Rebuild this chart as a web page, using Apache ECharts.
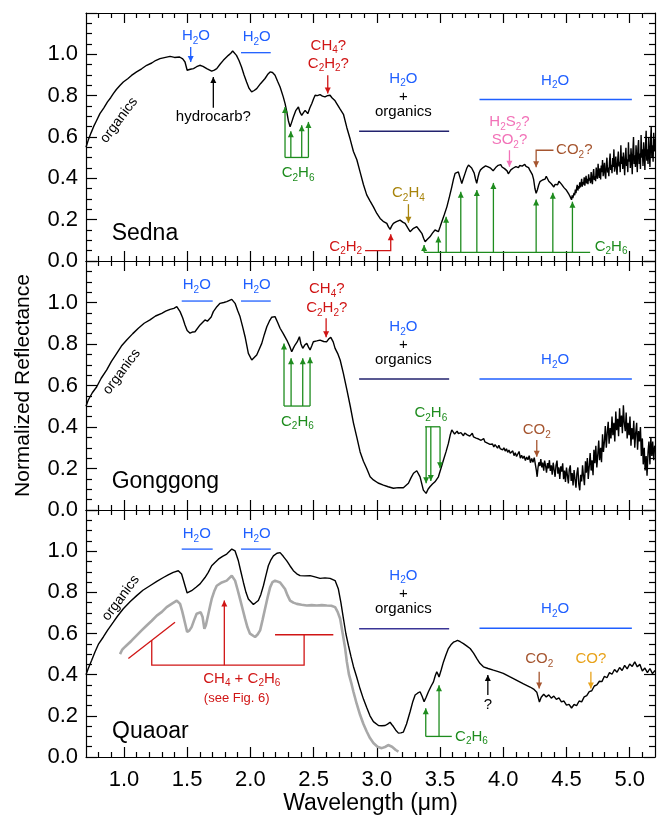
<!DOCTYPE html>
<html>
<head>
<meta charset="utf-8">
<script src="https://cdn.jsdelivr.net/npm/echarts@6/dist/echarts.min.js"></script>
<style>
  html, body { margin: 0; padding: 0; background: #fff; }
  #chart { width: 657px; height: 817px; }
</style>
</head>
<body>
<div id="chart"></div>
<script>
// ---- data: [wavelength (um), normalized reflectance] ----
var sedna = [
  [0.70,0.55],[0.718,0.585],[0.74,0.62],[0.76,0.65],[0.78,0.675],[0.81,0.713],[0.84,0.74],[0.87,0.77],[0.895,0.79],[0.916,0.81],
  [0.94,0.83],[0.97,0.85],[0.995,0.866],[1.03,0.882],[1.06,0.898],[1.10,0.915],[1.14,0.93],[1.18,0.947],[1.22,0.958],[1.25,0.97],
  [1.285,0.979],[1.32,0.984],[1.365,0.99],[1.40,0.985],[1.44,0.987],[1.465,0.978],[1.483,0.963],[1.50,0.923],[1.525,0.928],[1.55,0.931],
  [1.575,0.94],[1.60,0.947],[1.625,0.942],[1.655,0.931],[1.694,0.919],[1.715,0.924],[1.734,0.931],[1.76,0.952],[1.786,0.971],[1.826,0.995],
  [1.845,1.005],[1.86,1.016],[1.875,1.008],[1.89,0.995],[1.91,0.97],[1.93,0.939],[1.95,0.9],[1.97,0.866],[1.99,0.835],[2.01,0.818],
  [2.03,0.825],[2.05,0.834],[2.08,0.858],[2.116,0.883],[2.14,0.905],[2.156,0.915],[2.175,0.912],[2.195,0.899],[2.215,0.87],[2.235,0.842],
  [2.26,0.794],[2.275,0.76],[2.288,0.721],[2.30,0.68],[2.314,0.649],[2.327,0.672],[2.34,0.697],[2.36,0.729],[2.38,0.745],[2.392,0.72],
  [2.406,0.705],[2.42,0.718],[2.433,0.729],[2.454,0.713],[2.47,0.74],[2.486,0.762],[2.50,0.785],[2.512,0.802],[2.53,0.8],[2.551,0.805],
  [2.57,0.798],[2.59,0.794],[2.61,0.8],[2.63,0.802],[2.645,0.79],[2.657,0.794],[2.67,0.775],[2.683,0.762],[2.71,0.735],[2.736,0.71],
  [2.763,0.645],[2.789,0.59],[2.815,0.53],[2.842,0.49],[2.868,0.43],[2.894,0.37],[2.92,0.32],[2.947,0.29],[2.973,0.262],[3.00,0.23],
  [3.026,0.206],[3.05,0.192],[3.079,0.182],[3.092,0.165],[3.105,0.153],[3.118,0.17],[3.131,0.182],[3.155,0.19],[3.184,0.198],[3.205,0.188],
  [3.224,0.182],[3.245,0.16],[3.263,0.142],[3.29,0.158],[3.316,0.166],[3.336,0.15],[3.356,0.134],[3.37,0.11],[3.382,0.093],[3.40,0.105],
  [3.42,0.117],[3.44,0.135],[3.46,0.15],[3.475,0.146],[3.487,0.142],[3.50,0.165],[3.514,0.19],[3.534,0.225],[3.554,0.262],[3.574,0.31],
  [3.593,0.359],[3.606,0.395],[3.619,0.424],[3.632,0.428],[3.645,0.431],[3.66,0.4],[3.672,0.375],[3.685,0.4],[3.698,0.424],[3.712,0.45],
  [3.725,0.464],[3.74,0.458],[3.75,0.450],[3.76,0.445],[3.77,0.425],[3.78,0.398],[3.79,0.376],[3.80,0.405],[3.81,0.428],[3.82,0.441],
  [3.83,0.436],[3.84,0.452],[3.85,0.447],[3.86,0.460],[3.87,0.451],[3.88,0.455],[3.89,0.446],[3.90,0.449],[3.91,0.441],[3.92,0.437],
  [3.93,0.446],[3.94,0.452],[3.95,0.449],[3.96,0.463],[3.97,0.458],[3.98,0.466],[3.99,0.455],[4.00,0.459],[4.01,0.447],[4.02,0.440],
  [4.03,0.436],[4.04,0.422],[4.05,0.431],[4.06,0.441],[4.07,0.437],[4.08,0.450],[4.09,0.446],[4.10,0.457],[4.11,0.449],[4.12,0.452],
  [4.13,0.462],[4.14,0.455],[4.15,0.459],[4.16,0.451],[4.17,0.468],[4.18,0.458],[4.19,0.463],[4.20,0.452],[4.21,0.440],[4.22,0.431],
  [4.23,0.418],[4.24,0.395],[4.25,0.352],[4.26,0.328],[4.27,0.345],[4.28,0.368],[4.29,0.384],[4.30,0.376],[4.31,0.392],[4.32,0.401],
  [4.33,0.396],[4.34,0.410],[4.35,0.398],[4.36,0.386],[4.37,0.392],[4.38,0.374],[4.39,0.366],[4.40,0.358],[4.41,0.371],[4.42,0.380],
  [4.43,0.369],[4.44,0.386],[4.45,0.380],[4.46,0.372],[4.47,0.366],[4.48,0.355],[4.49,0.349],[4.50,0.342],[4.51,0.336],[4.52,0.322],
  [4.53,0.310],[4.54,0.296],[4.545,0.318],[4.55,0.305],[4.56,0.330],[4.565,0.318],[4.57,0.345],[4.575,0.328],[4.58,0.352],[4.585,0.368],
  [4.59,0.341],[4.595,0.362],[4.60,0.350],[4.605,0.381],[4.61,0.356],[4.615,0.372],[4.62,0.398],[4.625,0.360],[4.63,0.382],[4.635,0.370],
  [4.64,0.405],[4.645,0.364],[4.65,0.390],[4.655,0.412],[4.66,0.375],[4.665,0.398],[4.67,0.372],[4.675,0.420],[4.68,0.389],[4.685,0.402],
  [4.69,0.377],[4.695,0.430],[4.70,0.395],[4.705,0.372],[4.71,0.418],[4.715,0.445],[4.72,0.392],[4.725,0.410],[4.73,0.386],[4.735,0.452],
  [4.74,0.414],[4.745,0.398],[4.75,0.470],[4.755,0.425],[4.76,0.402],[4.765,0.448],[4.77,0.395],[4.775,0.462],[4.78,0.430],[4.785,0.488],
  [4.79,0.410],[4.795,0.442],[4.80,0.475],[4.805,0.418],[4.81,0.398],[4.815,0.465],[4.82,0.500],[4.825,0.428],[4.83,0.452],[4.835,0.410],
  [4.84,0.478],[4.845,0.520],[4.85,0.440],[4.855,0.465],[4.86,0.425],[4.865,0.498],[4.87,0.455],[4.875,0.540],[4.88,0.432],[4.885,0.470],
  [4.89,0.505],[4.895,0.445],[4.90,0.418],[4.905,0.490],[4.91,0.530],[4.915,0.458],[4.92,0.480],[4.925,0.430],[4.93,0.560],[4.935,0.470],
  [4.94,0.505],[4.945,0.445],[4.95,0.525],[4.955,0.478],[4.96,0.415],[4.965,0.500],[4.97,0.548],[4.975,0.460],[4.98,0.492],[4.985,0.430],
  [4.99,0.575],[4.995,0.480],[5.00,0.515],[5.005,0.450],[5.01,0.545],[5.015,0.498],[5.02,0.420],[5.025,0.530],[5.03,0.600],[5.035,0.470],
  [5.04,0.512],[5.045,0.455],[5.05,0.560],[5.055,0.495],[5.06,0.430],[5.065,0.545],[5.07,0.585],[5.075,0.470],[5.08,0.520],[5.085,0.445],
  [5.09,0.610],[5.095,0.500],[5.10,0.540],[5.105,0.460],[5.11,0.575],[5.115,0.515],[5.12,0.440],[5.125,0.560],[5.13,0.630],[5.135,0.485],
  [5.14,0.540],[5.145,0.470],[5.15,0.600],[5.155,0.520],[5.16,0.455],[5.165,0.580],[5.17,0.650],[5.175,0.500],[5.18,0.560],[5.185,0.480],
  [5.19,0.620],[5.195,0.530],[5.20,0.590]
];

var gonggong = [
  [0.70,0.50],[0.718,0.53],[0.75,0.565],[0.785,0.594],[0.82,0.635],[0.864,0.675],[0.90,0.715],[0.943,0.755],[0.98,0.79],[1.022,0.819],
  [1.07,0.85],[1.114,0.876],[1.16,0.90],[1.206,0.916],[1.25,0.935],[1.299,0.948],[1.33,0.958],[1.365,0.967],[1.395,0.972],[1.418,0.98],
  [1.444,0.956],[1.465,0.925],[1.483,0.892],[1.50,0.865],[1.523,0.852],[1.545,0.858],[1.562,0.859],[1.602,0.892],[1.641,0.916],[1.66,0.91],
  [1.675,0.907],[1.69,0.93],[1.707,0.956],[1.735,0.98],[1.76,0.996],[1.79,1.0],[1.813,1.004],[1.853,1.015],[1.879,0.996],[1.90,0.96],
  [1.918,0.932],[1.94,0.88],[1.958,0.835],[1.984,0.755],[2.011,0.723],[2.05,0.747],[2.07,0.775],[2.09,0.803],[2.11,0.845],[2.13,0.883],
  [2.15,0.91],[2.169,0.929],[2.195,0.932],[2.215,0.905],[2.235,0.876],[2.26,0.85],[2.288,0.819],[2.31,0.79],[2.327,0.763],[2.34,0.78],
  [2.353,0.795],[2.37,0.81],[2.388,0.835],[2.40,0.80],[2.414,0.779],[2.43,0.795],[2.446,0.803],[2.46,0.785],[2.472,0.771],[2.485,0.79],
  [2.498,0.811],[2.525,0.815],[2.551,0.819],[2.58,0.812],[2.604,0.811],[2.62,0.825],[2.636,0.832],[2.655,0.81],[2.67,0.779],[2.69,0.755],
  [2.71,0.723],[2.735,0.66],[2.763,0.58],[2.79,0.50],[2.815,0.42],[2.842,0.35],[2.868,0.28],[2.894,0.235],[2.92,0.20],[2.947,0.16],
  [2.973,0.145],[3.01,0.13],[3.052,0.12],[3.09,0.112],[3.131,0.105],[3.17,0.108],[3.21,0.107],[3.25,0.129],[3.27,0.155],[3.29,0.177],
  [3.316,0.189],[3.342,0.16],[3.368,0.096],[3.39,0.08],[3.405,0.10],[3.42,0.112],[3.44,0.125],[3.46,0.136],[3.487,0.16],[3.507,0.20],
  [3.527,0.241],[3.547,0.28],[3.566,0.321],[3.58,0.36],[3.593,0.386],
  [3.605,0.378],[3.615,0.366],[3.625,0.372],[3.635,0.380],[3.645,0.368],[3.655,0.362],[3.665,0.373],[3.675,0.366],[3.685,0.358],[3.695,0.371],
  [3.705,0.375],[3.715,0.362],[3.725,0.368],[3.735,0.356],[3.745,0.364],[3.755,0.370],[3.765,0.352],[3.775,0.358],[3.785,0.346],[3.795,0.353],
  [3.805,0.342],[3.815,0.350],[3.825,0.336],[3.835,0.331],[3.845,0.344],[3.855,0.328],[3.865,0.334],[3.875,0.322],[3.885,0.330],[3.895,0.316],
  [3.905,0.325],[3.915,0.318],[3.925,0.304],[3.935,0.315],[3.945,0.309],[3.955,0.298],[3.965,0.312],[3.975,0.296],[3.985,0.302],[3.995,0.290],
  [4.005,0.300],[4.015,0.284],[4.025,0.295],[4.035,0.278],[4.045,0.289],[4.055,0.274],[4.065,0.268],[4.075,0.285],[4.085,0.262],[4.095,0.276],
  [4.105,0.258],[4.115,0.270],[4.125,0.282],[4.135,0.250],[4.145,0.264],[4.155,0.248],[4.165,0.260],[4.175,0.238],[4.185,0.255],[4.195,0.242],
  [4.205,0.262],[4.215,0.228],[4.225,0.248],[4.235,0.230],[4.245,0.252],[4.255,0.215],[4.262,0.190],[4.268,0.160],[4.275,0.205],[4.282,0.230],
  [4.290,0.212],[4.297,0.245],[4.305,0.205],[4.312,0.228],[4.320,0.190],[4.327,0.238],[4.335,0.212],[4.342,0.180],[4.350,0.226],[4.357,0.200],
  [4.365,0.240],[4.372,0.188],[4.380,0.215],[4.387,0.170],[4.395,0.228],[4.402,0.195],[4.410,0.160],[4.417,0.215],[4.425,0.238],[4.432,0.175],
  [4.440,0.205],[4.447,0.150],[4.455,0.210],[4.462,0.185],[4.470,0.225],[4.477,0.148],[4.485,0.190],[4.492,0.135],[4.500,0.205],[4.507,0.168],
  [4.515,0.128],[4.522,0.195],[4.530,0.215],[4.537,0.140],[4.545,0.178],[4.552,0.118],[4.560,0.192],[4.567,0.150],[4.575,0.108],[4.582,0.175],
  [4.590,0.205],[4.597,0.125],[4.605,0.095],[4.612,0.170],[4.620,0.138],[4.627,0.215],[4.635,0.160],[4.642,0.120],[4.650,0.235],[4.657,0.180],
  [4.665,0.250],[4.672,0.150],[4.680,0.210],[4.687,0.275],[4.695,0.190],[4.702,0.240],[4.710,0.168],[4.717,0.290],[4.725,0.225],[4.732,0.310],
  [4.740,0.205],[4.747,0.262],[4.755,0.335],[4.762,0.240],[4.770,0.300],[4.777,0.230],[4.785,0.365],[4.792,0.280],[4.800,0.330],[4.807,0.405],
  [4.815,0.300],[4.822,0.370],[4.830,0.425],[4.837,0.320],[4.845,0.395],[4.852,0.345],[4.860,0.450],[4.867,0.360],[4.875,0.420],[4.882,0.330],
  [4.890,0.475],[4.897,0.385],[4.905,0.440],[4.912,0.355],[4.920,0.490],[4.927,0.400],[4.935,0.455],[4.942,0.370],[4.950,0.505],[4.957,0.420],
  [4.965,0.380],[4.972,0.470],[4.980,0.345],[4.987,0.420],[4.995,0.360],[5.002,0.450],[5.010,0.310],[5.017,0.395],[5.025,0.340],[5.032,0.430],
  [5.040,0.300],[5.047,0.370],[5.055,0.420],[5.062,0.290],[5.070,0.380],[5.077,0.330],[5.085,0.400],[5.092,0.260],[5.100,0.345],[5.107,0.220],
  [5.115,0.300],[5.122,0.190],[5.130,0.260],[5.137,0.165],[5.145,0.280],[5.152,0.330],[5.160,0.220],[5.167,0.350],[5.175,0.260],[5.182,0.330],
  [5.190,0.240],[5.197,0.310],[5.200,0.290]
];

var quaoar = [
  [0.70,0.40],[0.718,0.43],[0.745,0.47],[0.771,0.51],[0.80,0.55],[0.837,0.583],[0.87,0.615],[0.916,0.655],[0.95,0.685],[0.995,0.72],
  [1.05,0.755],[1.101,0.784],[1.15,0.81],[1.206,0.832],[1.26,0.853],[1.312,0.872],[1.35,0.885],[1.39,0.897],[1.43,0.905],[1.456,0.889],
  [1.47,0.86],[1.483,0.832],[1.50,0.797],[1.535,0.808],[1.57,0.825],[1.602,0.841],[1.641,0.872],[1.667,0.897],[1.694,0.929],[1.72,0.945],
  [1.747,0.961],[1.78,0.975],[1.813,0.986],[1.853,1.01],[1.879,1.001],[1.905,0.953],[1.925,0.90],[1.945,0.848],[1.965,0.80],[1.984,0.768],
  [2.024,0.741],[2.063,0.76],[2.083,0.79],[2.103,0.832],[2.122,0.88],[2.142,0.929],[2.16,0.955],[2.182,0.977],[2.21,0.99],[2.235,0.993],
  [2.26,0.975],[2.288,0.953],[2.314,0.928],[2.34,0.905],[2.367,0.89],[2.393,0.881],[2.43,0.88],[2.472,0.881],[2.51,0.875],[2.551,0.868],
  [2.59,0.87],[2.63,0.868],[2.67,0.857],[2.696,0.816],[2.716,0.75],[2.736,0.672],[2.755,0.60],[2.775,0.543],[2.795,0.49],[2.815,0.44],
  [2.84,0.39],[2.868,0.33],[2.895,0.28],[2.92,0.24],[2.946,0.20],[2.973,0.172],[3.013,0.153],[3.04,0.152],[3.066,0.153],[3.085,0.16],
  [3.105,0.169],[3.118,0.158],[3.131,0.148],[3.15,0.13],[3.171,0.116],[3.19,0.117],[3.21,0.121],[3.235,0.16],[3.263,0.22],[3.285,0.27],
  [3.303,0.301],[3.322,0.31],[3.342,0.317],[3.358,0.295],[3.374,0.269],[3.39,0.29],[3.408,0.317],[3.43,0.345],[3.448,0.365],[3.462,0.395],
  [3.474,0.414],[3.485,0.40],[3.492,0.389],[3.51,0.425],[3.527,0.462],[3.547,0.497],[3.566,0.527],[3.586,0.545],[3.606,0.558],[3.622,0.562],
  [3.638,0.567],[3.66,0.56],[3.685,0.551],[3.71,0.54],[3.738,0.527],[3.765,0.505],[3.791,0.478],[3.815,0.455],[3.843,0.438],[3.88,0.43],
  [3.922,0.422],[3.96,0.415],[4.00,0.406],[4.05,0.39],[4.107,0.372],[4.16,0.355],[4.212,0.34],[4.24,0.33],[4.265,0.315],[4.286,0.267],
  [4.30,0.29],[4.32,0.305],[4.34,0.292],[4.36,0.302],[4.38,0.286],[4.40,0.296],[4.42,0.28],[4.44,0.287],[4.46,0.268],[4.48,0.272],
  [4.50,0.252],[4.52,0.256],[4.54,0.238],[4.56,0.255],[4.58,0.25],[4.60,0.272],[4.62,0.268],[4.64,0.292],[4.66,0.298],[4.68,0.318],
  [4.70,0.322],[4.72,0.345],[4.74,0.35],[4.76,0.368],[4.78,0.366],[4.80,0.392],[4.82,0.385],[4.84,0.41],[4.86,0.402],[4.88,0.425],
  [4.90,0.412],[4.92,0.435],[4.94,0.42],[4.96,0.445],[4.98,0.428],[5.00,0.452],[5.02,0.44],[5.04,0.462],[5.06,0.438],[5.08,0.45],
  [5.10,0.418],[5.12,0.432],[5.14,0.41],[5.16,0.43],[5.18,0.405],[5.20,0.42]
];

// grey comparison spectrum in the Quaoar panel
var quaoarGrey = [
  [0.969,0.50],[0.985,0.52],[1.00,0.53],[1.022,0.543],[1.06,0.565],[1.101,0.591],[1.14,0.615],[1.18,0.639],[1.22,0.662],[1.26,0.687],
  [1.30,0.705],[1.338,0.728],[1.38,0.745],[1.418,0.76],[1.444,0.744],[1.46,0.71],[1.475,0.672],[1.50,0.607],[1.518,0.615],[1.535,0.631],
  [1.555,0.665],[1.575,0.696],[1.607,0.703],[1.622,0.68],[1.636,0.623],[1.648,0.64],[1.662,0.679],[1.68,0.73],[1.694,0.768],[1.714,0.805],
  [1.734,0.832],[1.774,0.848],[1.813,0.857],[1.853,0.881],[1.879,0.857],[1.898,0.815],[1.918,0.768],[1.938,0.72],[1.958,0.672],[1.977,0.63],
  [1.997,0.599],[2.037,0.583],[2.057,0.595],[2.077,0.615],[2.096,0.665],[2.116,0.72],[2.136,0.775],[2.156,0.824],[2.175,0.85],[2.195,0.857],
  [2.235,0.848],[2.274,0.816],[2.294,0.785],[2.314,0.76],[2.34,0.75],[2.367,0.744],[2.405,0.74],[2.446,0.736],[2.485,0.738],[2.525,0.736],
  [2.565,0.738],[2.604,0.736],[2.64,0.735],[2.67,0.728],[2.69,0.705],[2.71,0.672],[2.73,0.60],[2.749,0.53],[2.763,0.462],[2.78,0.40],
  [2.802,0.35],[2.815,0.317],[2.84,0.26],[2.868,0.204],[2.894,0.16],[2.92,0.124],[2.946,0.092],[2.973,0.068],[3.005,0.05],[3.039,0.043],
  [3.07,0.05],[3.09,0.058],[3.105,0.063],[3.12,0.05],[3.131,0.043],[3.15,0.034],[3.171,0.026]
];

var panelNames = ['Sedna', 'Gonggong', 'Quaoar'];
var xMajorTicks = [1.0, 1.5, 2.0, 2.5, 3.0, 3.5, 4.0, 4.5, 5.0];
var xMinorTicks = [0.8, 0.9, 1.1, 1.2, 1.3, 1.4, 1.6, 1.7, 1.8, 1.9, 2.1, 2.2, 2.3, 2.4, 2.6, 2.7, 2.8, 2.9,
  3.1, 3.2, 3.3, 3.4, 3.6, 3.7, 3.8, 3.9, 4.1, 4.2, 4.3, 4.4, 4.6, 4.7, 4.8, 4.9, 5.1];

// ---- layout ----
var FONT = "'Liberation Sans', Arial, sans-serif";
var BLUE = '#1f5fff', NAVY = '#22226e', RED = '#d01515', GREEN = '#1e8c1e',
    PINK = '#f272b8', BROWN = '#a5552f', GOLD = '#a8840c', ORANGE = '#e8a21a';
var gridTops = [13, 261, 510];
var gridHeights = [248, 249, 247];

var grids = [], xAxes = [], yAxes = [];
for (var i = 0; i < 3; i++) {
  grids.push({ left: 86, width: 569, top: gridTops[i], height: gridHeights[i] });
}

function xAxisDef(gi, pos, ticks, len, showLine, showLabel) {
  return {
    type: 'value', gridIndex: gi, position: pos, min: 0.7, max: 5.2,
    axisLine: { show: showLine, onZero: false, lineStyle: { color: '#000', width: 1.2 } },
    axisTick: { show: true, inside: true, length: len, customValues: ticks, lineStyle: { color: '#000', width: 1.2 } },
    axisLabel: { show: showLabel, customValues: xMajorTicks, formatter: function (v) { return v.toFixed(1); },
      fontSize: 22, color: '#000', fontFamily: FONT, margin: 12 },
    splitLine: { show: false }
  };
}
for (i = 0; i < 3; i++) xAxes.push(xAxisDef(i, 'bottom', xMajorTicks, 10, true, i === 2));
for (i = 0; i < 3; i++) xAxes.push(xAxisDef(i, 'bottom', xMinorTicks, 5, false, false));
for (i = 0; i < 3; i++) xAxes.push(xAxisDef(i, 'top', xMajorTicks, 10, true, false));
for (i = 0; i < 3; i++) xAxes.push(xAxisDef(i, 'top', xMinorTicks, 5, false, false));
xAxes[2].name = 'Wavelength (\u03bcm)';
xAxes[2].nameLocation = 'middle';
xAxes[2].nameGap = 35;
xAxes[2].nameTextStyle = { fontSize: 23, color: '#000', fontFamily: FONT };

function yAxisDef(gi, pos, showLabel) {
  return {
    type: 'value', gridIndex: gi, position: pos, min: 0, max: 1.2, interval: 0.2,
    axisLine: { show: true, lineStyle: { color: '#000', width: 1.2 } },
    axisTick: { show: true, inside: true, length: 11, lineStyle: { color: '#000', width: 1.2 } },
    minorTick: { show: true, splitNumber: 4, length: 6, lineStyle: { color: '#000', width: 1.2 } },
    axisLabel: { show: showLabel, formatter: function (v) { return v > 1.05 ? '' : v.toFixed(1); },
      fontSize: 22, color: '#000', fontFamily: FONT, margin: 8 },
    splitLine: { show: false }
  };
}
for (i = 0; i < 3; i++) yAxes.push(yAxisDef(i, 'left', true));
for (i = 0; i < 3; i++) yAxes.push(yAxisDef(i, 'right', false));
yAxes[1].name = 'Normalized Reflectance';
yAxes[1].nameLocation = 'middle';
yAxes[1].nameGap = 52;
yAxes[1].nameTextStyle = { fontSize: 21, color: '#000', fontFamily: FONT };

function spec(data, xi, color, width) {
  return { type: 'line', xAxisIndex: xi, yAxisIndex: xi, data: data, showSymbol: false, silent: true,
    lineStyle: { color: color, width: width }, animation: false };
}

var option = {
  animation: false,
  grid: grids,
  xAxis: xAxes,
  yAxis: yAxes,
  series: [
    spec(sedna, 0, '#000', 1.4),
    spec(gonggong, 1, '#000', 1.4),
    spec(quaoarGrey, 2, '#a8a8a8', 2.6),
    spec(quaoar, 2, '#000', 1.4)
  ]
};

var chart = echarts.init(document.getElementById('chart'));
chart.setOption(option);

// ---- annotations (placed in data coordinates) ----
var panelSeries = [0, 1, 3];
function px(p, x, y) { return chart.convertToPixel({ seriesIndex: panelSeries[p] }, [x, y]); }

function richText(s) {
  return s.split(/(_\d)/).filter(Boolean).map(function (part) {
    return part.charAt(0) === '_' ? '{s|' + part.charAt(1) + '}' : '{n|' + part + '}';
  }).join('');
}

var els = [];
function txt(p, x, y, s, color, size, align, rot) {
  var pt = px(p, x, y);
  align = align || 'center';
  els.push({
    type: 'text', x: pt[0], y: pt[1], rotation: rot || 0, silent: true, z: 50,
    style: {
      text: richText(s), fill: color, fontSize: size, fontFamily: FONT,
      align: align, textAlign: align, verticalAlign: 'middle', textVerticalAlign: 'middle',
      rich: {
        n: { fontSize: size, fontFamily: FONT, lineHeight: size + 5, fill: color },
        s: { fontSize: Math.round(size * 0.68), fontFamily: FONT, lineHeight: Math.round(size * 0.55), verticalAlign: 'bottom', fill: color }
      }
    }
  });
}
function line(p, pts, color, w) {
  els.push({ type: 'polyline', silent: true, z: 50,
    shape: { points: pts.map(function (q) { return px(p, q[0], q[1]); }) },
    style: { stroke: color, lineWidth: w || 1.3, fill: null } });
}
function arrow(p, pts, color) {
  var P = pts.map(function (q) { return px(p, q[0], q[1]); });
  els.push({ type: 'polyline', silent: true, z: 50, shape: { points: P }, style: { stroke: color, lineWidth: 1.3, fill: null } });
  var a = P[P.length - 2], b = P[P.length - 1];
  var dx = b[0] - a[0], dy = b[1] - a[1], L = Math.sqrt(dx * dx + dy * dy);
  dx /= L; dy /= L;
  var h = 6, w = 3;
  els.push({ type: 'polygon', silent: true, z: 51,
    shape: { points: [b, [b[0] - dx * h - dy * w, b[1] - dy * h + dx * w], [b[0] - dx * h + dy * w, b[1] - dy * h - dx * w]] },
    style: { fill: color } });
}
function comb(p, base, x0, x1, tips, color) {
  line(p, [[x0, base], [x1, base]], color);
  tips.forEach(function (t) { arrow(p, [[t[0], base], [t[0], t[1]]], color); });
}

// Sedna
txt(0, 0.961, 0.681, 'organics', '#000', 14, 'center', 0.93);
txt(0, 1.57, 1.087, 'H_2O', BLUE, 15);
arrow(0, [[1.528, 1.035], [1.528, 0.963]], BLUE);
txt(0, 2.05, 1.084, 'H_2O', BLUE, 15);
line(0, [[1.926, 1.008], [2.161, 1.008]], BLUE);
txt(0, 1.707, 0.697, 'hydrocarb?', '#000', 15);
arrow(0, [[1.707, 0.742], [1.707, 0.89]], '#000');
txt(0, 2.617, 1.043, 'CH_4?', RED, 15);
txt(0, 2.617, 0.955, 'C_2H_2?', RED, 15);
arrow(0, [[2.612, 0.899], [2.612, 0.81]], RED);
comb(0, 0.501, 2.274, 2.459, [[2.274, 0.745], [2.32, 0.628], [2.406, 0.657], [2.459, 0.673]], GREEN);
txt(0, 2.377, 0.425, 'C_2H_6', GREEN, 15);
txt(0, 3.21, 0.883, 'H_2O', BLUE, 15);
txt(0, 3.21, 0.794, '+', '#000', 15);
txt(0, 3.21, 0.721, 'organics', '#000', 15);
line(0, [[2.86, 0.628], [3.572, 0.628]], NAVY, 1.5);
txt(0, 4.41, 0.874, 'H_2O', BLUE, 15);
line(0, [[3.812, 0.781], [5.017, 0.781]], BLUE, 1.5);
txt(0, 4.049, 0.673, 'H_2S_2?', PINK, 15);
txt(0, 4.049, 0.585, 'SO_2?', PINK, 15);
arrow(0, [[4.049, 0.536], [4.049, 0.456]], PINK);
arrow(0, [[4.397, 0.536], [4.26, 0.536], [4.26, 0.454]], BROWN);
txt(0, 4.418, 0.536, 'CO_2?', BROWN, 15, 'left');
txt(0, 3.25, 0.33, 'C_2H_4', GOLD, 15);
arrow(0, [[3.25, 0.275], [3.25, 0.185]], GOLD);
txt(0, 2.884, 0.069, 'C_2H_2', RED, 15, 'right');
arrow(0, [[2.907, 0.05], [3.11, 0.05], [3.11, 0.129]], RED);
comb(0, 0.042, 3.374, 4.687, [[3.374, 0.077], [3.487, 0.118], [3.548, 0.214], [3.664, 0.335], [3.791, 0.343],
  [3.922, 0.378], [4.26, 0.298], [4.392, 0.33], [4.547, 0.287]], GREEN);
txt(0, 4.853, 0.069, 'C_2H_6', GREEN, 15);
txt(0, 0.903, 0.134, panelNames[0], '#000', 23, 'left');

// Gonggong
txt(1, 0.982, 0.666, 'organics', '#000', 14, 'center', 0.93);
txt(1, 1.576, 1.084, 'H_2O', BLUE, 15);
line(1, [[1.457, 1.007], [1.702, 1.007]], BLUE);
txt(1, 2.05, 1.084, 'H_2O', BLUE, 15);
line(1, [[1.926, 1.007], [2.161, 1.007]], BLUE);
txt(1, 2.604, 1.065, 'CH_4?', RED, 15);
txt(1, 2.604, 0.972, 'C_2H_2?', RED, 15);
arrow(1, [[2.599, 0.924], [2.599, 0.832]], RED);
comb(1, 0.501, 2.266, 2.472, [[2.266, 0.803], [2.322, 0.731], [2.414, 0.731], [2.472, 0.736]], GREEN);
txt(1, 2.372, 0.426, 'C_2H_6', GREEN, 15);
txt(1, 3.21, 0.883, 'H_2O', BLUE, 15);
txt(1, 3.21, 0.795, '+', '#000', 15);
txt(1, 3.21, 0.723, 'organics', '#000', 15);
line(1, [[2.86, 0.631], [3.572, 0.631]], NAVY, 1.5);
txt(1, 4.41, 0.723, 'H_2O', BLUE, 15);
line(1, [[3.812, 0.631], [5.017, 0.631]], BLUE, 1.5);
txt(1, 3.427, 0.466, 'C_2H_6', GREEN, 15);
comb(1, 0.401, 3.382, 3.5, [[3.39, 0.129], [3.427, 0.14], [3.5, 0.201]], GREEN);
txt(1, 4.265, 0.386, 'CO_2', BROWN, 15);
arrow(1, [[4.265, 0.337], [4.265, 0.257]], BROWN);
txt(1, 0.903, 0.136, panelNames[1], '#000', 23, 'left');

// Quaoar
txt(2, 0.975, 0.772, 'organics', '#000', 14, 'center', 0.93);
txt(2, 1.576, 1.082, 'H_2O', BLUE, 15);
line(2, [[1.457, 1.01], [1.702, 1.01]], BLUE);
txt(2, 2.05, 1.082, 'H_2O', BLUE, 15);
line(2, [[1.926, 1.01], [2.161, 1.01]], BLUE);
line(2, [[1.035, 0.478], [1.404, 0.655]], RED);
line(2, [[1.22, 0.567], [1.22, 0.446], [2.425, 0.446], [2.425, 0.594]], RED);
line(2, [[2.195, 0.594], [2.656, 0.594]], RED);
arrow(2, [[1.794, 0.446], [1.794, 0.76]], RED);
txt(2, 1.932, 0.382, 'CH_4 + C_2H_6', RED, 15);
txt(2, 1.892, 0.285, '(see Fig. 6)', RED, 13);
txt(2, 3.21, 0.881, 'H_2O', BLUE, 15);
txt(2, 3.21, 0.795, '+', '#000', 15);
txt(2, 3.21, 0.72, 'organics', '#000', 15);
line(2, [[2.86, 0.623], [3.572, 0.623]], '#3a3596', 1.5);
txt(2, 4.41, 0.72, 'H_2O', BLUE, 15);
line(2, [[3.812, 0.626], [5.017, 0.626]], BLUE, 1.5);
txt(2, 3.878, 0.253, '?', '#000', 15);
arrow(2, [[3.878, 0.301], [3.878, 0.398]], '#000');
txt(2, 4.284, 0.475, 'CO_2', BROWN, 15);
arrow(2, [[4.284, 0.414], [4.284, 0.333]], BROWN);
txt(2, 4.693, 0.475, 'CO?', ORANGE, 15);
arrow(2, [[4.693, 0.414], [4.693, 0.333]], ORANGE);
line(2, [[3.387, 0.1], [3.593, 0.1]], GREEN);
arrow(2, [[3.387, 0.1], [3.387, 0.237]], GREEN);
arrow(2, [[3.492, 0.1], [3.492, 0.349]], GREEN);
txt(2, 3.619, 0.1, 'C_2H_6', GREEN, 15, 'left');
txt(2, 0.906, 0.124, panelNames[2], '#000', 23, 'left');

chart.setOption({ graphic: { elements: els } });
</script>
</body>
</html>
